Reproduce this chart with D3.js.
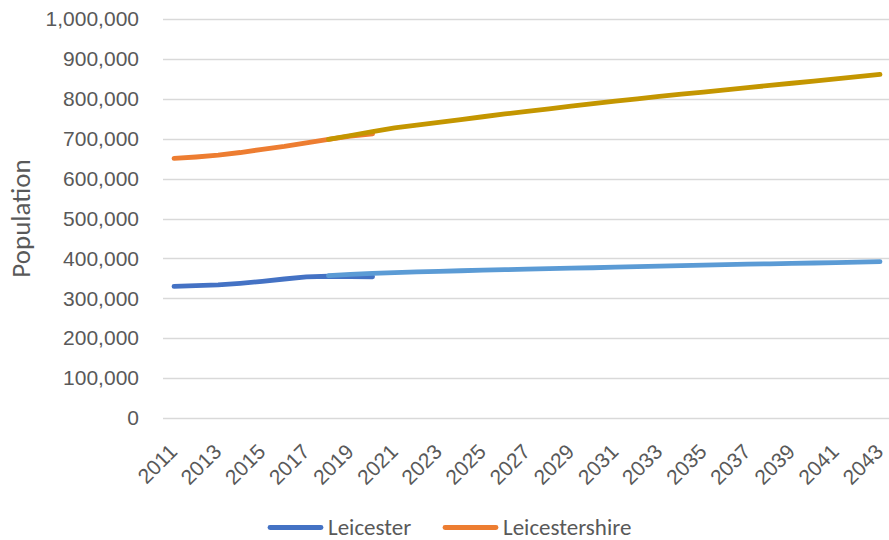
<!DOCTYPE html>
<html>
<head>
<meta charset="utf-8">
<script src="https://cdn.jsdelivr.net/npm/d3@7"></script>
<style>
  html, body { margin: 0; padding: 0; background: #fff; }
  svg { display: block; font-family: Carlito, Calibri, Lato, sans-serif; }
</style>
</head>
<body>
<svg id="chart" width="889" height="540"></svg>
<script>
// ---- data ----
const years = d3.range(2011, 2044);
const tickYears = d3.range(2011, 2044, 2);
const yTicks = [0, 100000, 200000, 300000, 400000, 500000, 600000, 700000, 800000, 900000, 1000000];

const actualYears = d3.range(2011, 2021);
const leicesterActual = [329839, 331606, 333812, 337653, 342627, 348343, 353540, 355218, 354224, 354036];
const leicestershireActual = [650489, 654170, 658900, 665400, 673400, 680900, 689800, 698300, 706200, 712400];

const projYears = d3.range(2018, 2044);
const leicesterProj = [357000, 359800, 362400, 364600, 366200, 367700, 369100, 370500, 371800, 373100,
  374300, 375400, 376600, 378000, 379300, 380600, 381900, 383200, 384300, 385400,
  386500, 387500, 388500, 389600, 390700, 391800];
const leicestershireProj = [698300, 708000, 717500, 727000, 734000, 741000, 748000, 755000, 762000, 768500,
  775000, 781500, 788000, 794000, 800000, 806000, 811500, 817000, 822500, 828000,
  833500, 839000, 844500, 850000, 855500, 861000];

const legendNames = ["Leicester", "Leicestershire"];

// ---- layout ----
const svg = d3.select("#chart");
const W = 889;
const plotLeft = 163, plotRight = 891, plotTop = 19, plotBottom = 418;
const textColor = "#595959";
const tickFs = 21, legendFs = 23, titleFs = 27;

const x = d3.scalePoint().domain(years).range([plotLeft, plotRight]).padding(0.5);
const y = d3.scaleLinear().domain([0, 1000000]).range([plotBottom, plotTop]);

// gridlines
svg.append("g").selectAll("line").data(yTicks).join("line")
  .attr("x1", plotLeft).attr("x2", W)
  .attr("y1", d => Math.round(y(d)) + 0.5).attr("y2", d => Math.round(y(d)) + 0.5)
  .attr("stroke", "#D9D9D9").attr("stroke-width", 1.3);

// y axis labels
const yAxis = d3.axisLeft(y).tickValues(yTicks).tickSize(0).tickPadding(0)
  .tickFormat(d3.format(","));
svg.append("g").attr("transform", `translate(139,0)`).call(yAxis)
  .call(g => g.select(".domain").remove())
  .selectAll("text")
  .attr("fill", textColor).style("font-size", tickFs + "px").style("font-family", null);

// y axis title
svg.append("text")
  .attr("transform", `translate(30,${(plotTop + plotBottom) / 2}) rotate(-90)`)
  .attr("text-anchor", "middle")
  .attr("fill", textColor).style("font-size", titleFs + "px")
  .text("Population");

// x axis labels
const xAxis = d3.axisBottom(x).tickValues(tickYears).tickSize(0).tickPadding(0);
svg.append("g").attr("transform", `translate(0,${plotBottom})`).call(xAxis)
  .call(g => g.select(".domain").remove())
  .selectAll("text")
  .attr("fill", textColor).style("font-size", tickFs + "px").style("font-family", null)
  .attr("text-anchor", "end")
  .attr("dy", null).attr("y", 0)
  .attr("transform", "translate(4,35) rotate(-45)");

// lines
const line = d3.line().x(d => x(d[0])).y(d => y(d[1]));
const series = [
  { yrs: actualYears, vals: leicesterActual, color: "#4472C4" },
  { yrs: actualYears, vals: leicestershireActual, color: "#ED7D31" },
  { yrs: projYears, vals: leicesterProj, color: "#5B9BD5" },
  { yrs: projYears, vals: leicestershireProj, color: "#C49600" }
];
svg.append("g").selectAll("path").data(series).join("path")
  .attr("d", s => line(s.yrs.map((yr, i) => [yr, s.vals[i]])))
  .attr("fill", "none").attr("stroke", s => s.color)
  .attr("stroke-width", 4.8).attr("stroke-linecap", "round").attr("stroke-linejoin", "round");

// legend
const legend = svg.append("g");
const legendItems = [
  { name: legendNames[0], color: "#4472C4", x0: 268 },
  { name: legendNames[1], color: "#ED7D31", x0: 443 }
];
legendItems.forEach(it => {
  legend.append("line")
    .attr("x1", it.x0 + 2).attr("x2", it.x0 + 53)
    .attr("y1", 527.5).attr("y2", 527.5)
    .attr("stroke", it.color).attr("stroke-width", 4.8).attr("stroke-linecap", "round");
  legend.append("text")
    .attr("x", it.x0 + 60).attr("y", 534.5)
    .attr("fill", textColor).style("font-size", legendFs + "px")
    .text(it.name);
});
</script>
</body>
</html>
